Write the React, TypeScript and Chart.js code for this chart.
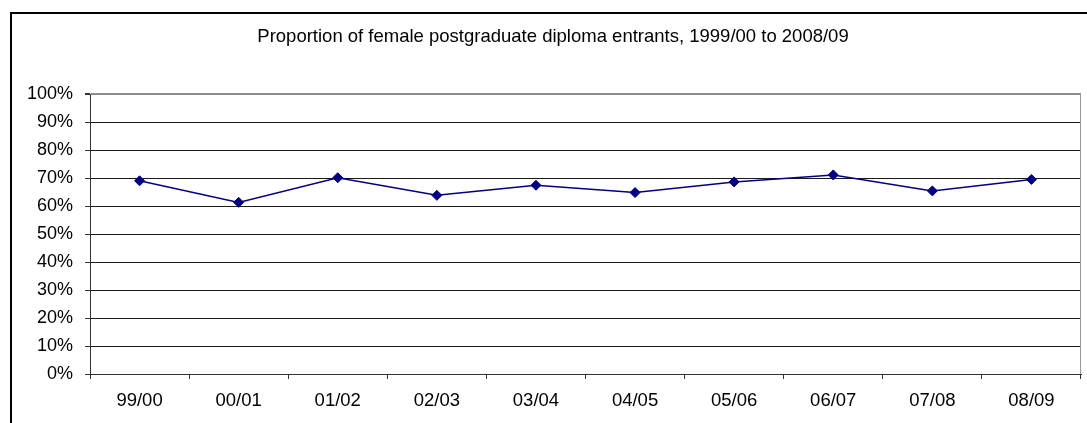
import React, { useEffect, useRef } from 'react';
import { Chart, registerables } from 'chart.js';

Chart.register(...registerables);

const categories = ['99/00', '00/01', '01/02', '02/03', '03/04', '04/05', '05/06', '06/07', '07/08', '08/09'];
const femaleShare = [69.0, 61.3, 70.1, 63.8, 67.4, 64.8, 68.6, 71.1, 65.4, 69.5];
const yMin = 0;
const yMax = 100;
const yStep = 10;
const titleText = 'Proportion of female postgraduate diploma entrants, 1999/00 to 2008/09';

const FONT = '"Liberation Sans", Arial, sans-serif';

const framePlugin = {
  id: 'frame',
  beforeDraw(chart: any) {
    const ctx = chart.ctx;
    ctx.save();
    ctx.fillStyle = '#ffffff';
    ctx.fillRect(0, 0, chart.width, chart.height);
    ctx.restore();
  },
  afterDraw(chart: any) {
    const ctx = chart.ctx;
    const a = chart.chartArea;
    ctx.save();
    ctx.fillStyle = '#000000';
    ctx.fillRect(10, 12, 2, chart.height - 12);
    ctx.fillRect(10, 12, chart.width - 10, 2);
    ctx.strokeStyle = '#9a9a9a';
    ctx.lineWidth = 1;
    ctx.beginPath();
    ctx.moveTo(Math.round(a.right) - 0.5, a.top);
    ctx.lineTo(Math.round(a.right) - 0.5, a.bottom);
    ctx.stroke();
    ctx.restore();
  },
};

export default function App() {
  const canvasRef = useRef<HTMLCanvasElement | null>(null);

  useEffect(() => {
    const canvas = canvasRef.current;
    if (!canvas) return;
    const chart = new Chart(canvas, {
      type: 'line',
      data: {
        labels: categories,
        datasets: [
          {
            data: femaleShare,
            borderColor: '#000080',
            backgroundColor: '#000080',
            borderWidth: 1.5,
            pointStyle: 'rectRot',
            pointRadius: 5,
            pointBackgroundColor: '#000080',
            pointBorderColor: '#000080',
            pointBorderWidth: 1,
            tension: 0,
            fill: false,
          },
        ],
      },
      options: {
        responsive: false,
        animation: false,
        events: [],
        layout: { padding: { left: 20, right: 1, top: 0, bottom: 0 } },
        plugins: {
          legend: { display: false },
          tooltip: { enabled: false },
          title: {
            display: true,
            text: titleText,
            color: '#000000',
            font: { family: FONT, size: 18.5, weight: 'normal' },
            padding: { top: 26, bottom: 45.8 },
          },
        },
        scales: {
          x: {
            type: 'category',
            offset: true,
            grid: {
              display: true,
              offset: true,
              drawOnChartArea: false,
              drawTicks: true,
              tickLength: 5,
              tickColor: '#333333',
            },
            border: { display: true, color: '#333333', width: 1 },
            ticks: {
              color: '#000000',
              font: { family: FONT, size: 18.5 },
              padding: 11,
              autoSkip: false,
              maxRotation: 0,
              minRotation: 0,
            },
            afterFit(scale: any) {
              scale.height = 49;
            },
          },
          y: {
            min: yMin,
            max: yMax,
            grid: {
              display: true,
              color: (c: any) => (c.tick && c.tick.value === yMax ? '#8c8c8c' : '#1a1a1a'),
              lineWidth: (c: any) => (c.tick && c.tick.value === yMax ? 2 : 1),
              drawTicks: true,
              tickLength: 5,
              tickColor: '#333333',
            },
            border: { display: true, color: '#333333', width: 1 },
            ticks: {
              stepSize: yStep,
              color: '#000000',
              font: { family: FONT, size: 18 },
              padding: 12,
              autoSkip: false,
              callback: (v: any) => `${v}%`,
            },
            afterFit(scale: any) {
              scale.width = 70;
            },
          },
        },
      },
      plugins: [framePlugin],
    });
    return () => chart.destroy();
  }, []);

  return (
    <div style={{ position: 'fixed', left: 0, top: 0, width: 1087, height: 423, background: '#fff' }}>
      <canvas ref={canvasRef} width={1087} height={423} style={{ display: 'block' }} />
    </div>
  );
}
